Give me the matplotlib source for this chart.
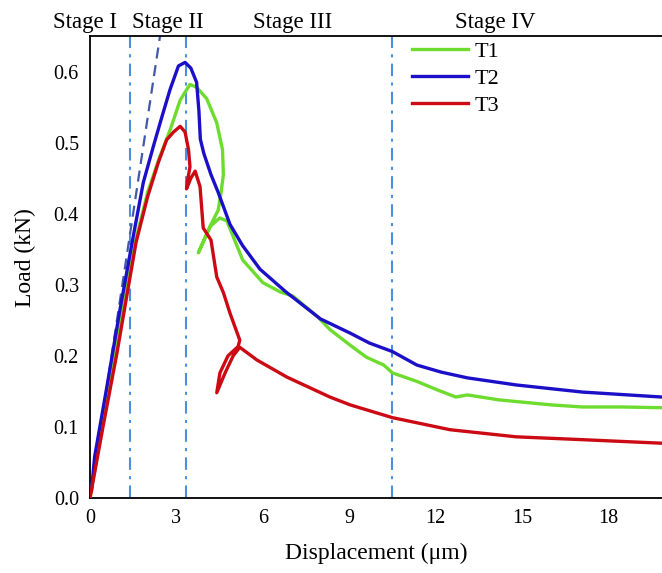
import matplotlib
matplotlib.use("Agg")
import matplotlib.pyplot as plt

# displacement (um) / load (kN)
t1_x = [0, 0.5, 1.25, 1.6, 2.0, 2.4, 2.8, 3.13, 3.47, 3.7, 4.05, 4.4, 4.6, 4.63, 4.55, 4.45,
        4.2, 3.76, 3.95, 4.17, 4.5, 4.75, 4.95, 5.3, 6.0, 6.6, 7.05, 7.4, 7.9, 8.33, 9.03,
        9.6, 10.2, 10.5, 11.35, 12.0, 12.7, 13.1, 14.2, 16.0, 17.1, 18.5, 19.86]
t1_y = [0, 0.12, 0.29, 0.365, 0.43, 0.478, 0.52, 0.56, 0.582, 0.578, 0.562, 0.528, 0.49, 0.455,
        0.43, 0.405, 0.385, 0.345, 0.362, 0.382, 0.394, 0.39, 0.37, 0.335, 0.303, 0.29, 0.284,
        0.272, 0.255, 0.237, 0.215, 0.198, 0.187, 0.176, 0.164, 0.153, 0.142, 0.145, 0.138,
        0.131, 0.128, 0.128, 0.127]

t2_x = [0.05, 0.16, 0.6, 1.04, 1.5, 1.85, 2.2, 2.5, 2.78, 3.07, 3.3, 3.5, 3.7, 3.78, 3.83, 3.95,
        4.2, 4.45, 4.86, 5.3, 5.9, 6.8, 8.0, 9.03, 9.7, 10.5, 11.35, 12.2, 13.1, 14.8, 17.1, 19.86]
t2_y = [0.01, 0.058, 0.16, 0.265, 0.368, 0.444, 0.495, 0.537, 0.575, 0.608, 0.613, 0.605, 0.585,
        0.545, 0.505, 0.485, 0.455, 0.43, 0.385, 0.355, 0.322, 0.29, 0.252, 0.232, 0.218, 0.206,
        0.187, 0.177, 0.169, 0.159, 0.149, 0.142]

t3_x = [0, 0.45, 0.94, 1.3, 1.6, 2.0, 2.37, 2.66, 2.9, 3.13, 3.3, 3.42, 3.47, 3.4, 3.35, 3.5,
        3.65, 3.82, 3.93, 4.2, 4.4, 4.63, 4.86, 5.2, 5.14, 4.79, 4.51, 4.4, 4.69, 4.97, 5.2,
        5.8, 6.84, 8.33, 9.03, 10.5, 12.5, 14.8, 17.1, 19.86]
t3_y = [0, 0.1, 0.205, 0.29, 0.36, 0.424, 0.472, 0.504, 0.515, 0.523, 0.515, 0.49, 0.466, 0.45,
        0.435, 0.45, 0.46, 0.438, 0.38, 0.363, 0.311, 0.289, 0.26, 0.222, 0.213, 0.2, 0.176,
        0.148, 0.176, 0.2, 0.212, 0.194, 0.17, 0.142, 0.131, 0.113, 0.096, 0.086, 0.082, 0.077]

tangent_x = [0, 2.43]
tangent_y = [0, 0.65]

stage_bounds = [1.38, 3.33, 10.5]
stage_names = ["Stage I", "Stage II", "Stage III", "Stage IV"]
stage_label_x = [-0.17, 2.7, 7.05, 14.06]

x_ticks = [0, 3, 6, 9, 12, 15, 18]
y_ticks = [0.0, 0.1, 0.2, 0.3, 0.4, 0.5, 0.6]

plt.rcParams["font.family"] = ["Liberation Serif", "DejaVu Serif"]

fig = plt.figure(figsize=(6.62, 5.73), dpi=100)
ax = fig.add_axes([0.136, 0.131, 0.864, 0.806])

for xb in stage_bounds:
    ax.axvline(xb, color="#4a90e2", linewidth=1.5, dashes=(6, 3, 1.5, 3), zorder=1)

ax.plot(tangent_x, tangent_y, color="#4358a8", linewidth=1.6, dashes=(5, 3), zorder=2)

ax.plot(t1_x, t1_y, color="#6edc2e", linewidth=2.4, label="T1", zorder=3)
ax.plot(t2_x, t2_y, color="#1c0fc8", linewidth=2.4, label="T2", zorder=4)
ax.plot(t3_x, t3_y, color="#cc0a14", linewidth=2.4, label="T3", zorder=5)

for name, sx in zip(stage_names, stage_label_x):
    ax.text(sx, 1.03, name, transform=ax.get_xaxis_transform(), ha="center", va="center",
            fontsize=16.5, clip_on=False)

ax.set_xlim(0, 19.86)
ax.set_ylim(0, 0.65)
ax.set_xticks(x_ticks)
ax.set_yticks(y_ticks)
ax.set_yticklabels([f"{v:.1f}" for v in y_ticks])
ax.tick_params(length=0, labelsize=14.5)
ax.tick_params(axis="x", pad=8)
ax.tick_params(axis="y", pad=8)
ax.spines["right"].set_visible(False)
for s in ["left", "bottom", "top"]:
    ax.spines[s].set_linewidth(1.3)

ax.set_xlabel("Displacement (\u03bcm)", fontsize=17)
ax.set_ylabel("Load (kN)", fontsize=17)
ax.xaxis.set_label_coords(0.5, -0.098)
ax.yaxis.set_label_coords(-0.094, 0.52)

ax.legend(loc="upper left", bbox_to_anchor=(0.554, 1.0), frameon=False, fontsize=16,
          handlelength=2.5, labelspacing=0.28, handletextpad=0.3, borderaxespad=0.0,
          borderpad=0.25)

fig.savefig("out.png", dpi=100)
